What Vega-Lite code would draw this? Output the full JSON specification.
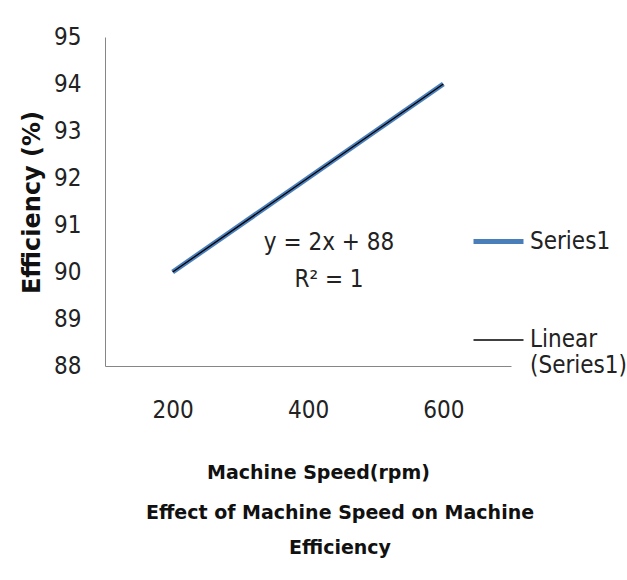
{
  "$schema": "https://vega.github.io/schema/vega-lite/v6.json",
  "width": 406,
  "height": 329,
  "autosize": {"type": "none"},
  "padding": {"left": 105, "top": 37, "right": 116, "bottom": 214},
  "background": "white",
  "config": {"view": {"stroke": null}, "font": "DejaVu Sans Condensed"},
  "title": {
    "text": ["Effect of Machine Speed on Machine", "Efficiency"],
    "orient": "bottom",
    "anchor": "middle",
    "font": "DejaVu Sans",
    "fontWeight": "bold",
    "fontSize": 19,
    "lineHeight": 35,
    "dx": 32,
    "offset": 22,
    "color": "#111111"
  },
  "data": {
    "values": [
      {"speed": "200", "eff": 90, "series": "Series1"},
      {"speed": "400", "eff": 92, "series": "Series1"},
      {"speed": "600", "eff": 94, "series": "Series1"},
      {"speed": "200", "eff": 90, "series": "Linear (Series1)"},
      {"speed": "400", "eff": 92, "series": "Linear (Series1)"},
      {"speed": "600", "eff": 94, "series": "Linear (Series1)"}
    ]
  },
  "encoding": {
    "x": {
      "field": "speed",
      "type": "ordinal",
      "scale": {"type": "point", "padding": 0.5},
      "axis": {
        "title": "Machine Speed(rpm)",
        "labelAngle": 0,
        "ticks": false,
        "grid": false,
        "domainColor": "#868686",
        "labelFont": "DejaVu Sans Condensed",
        "labelFontSize": 24,
        "labelColor": "#222222",
        "labelBaseline": "alphabetic",
        "labelPadding": 51,
        "titleFont": "DejaVu Sans",
        "titleFontWeight": "bold",
        "titleFontSize": 19,
        "titleColor": "#111111",
        "titleX": 213,
        "titleY": 112,
        "titleBaseline": "alphabetic",
        "titleAlign": "center"
      }
    },
    "y": {
      "field": "eff",
      "type": "quantitative",
      "scale": {"domain": [88, 95], "nice": false, "zero": false},
      "axis": {
        "title": "Efficiency (%)",
        "values": [88, 89, 90, 91, 92, 93, 94, 95],
        "ticks": false,
        "grid": false,
        "domainColor": "#868686",
        "labelFont": "DejaVu Sans Condensed",
        "labelFontSize": 24,
        "labelColor": "#222222",
        "labelPadding": 24,
        "titleFont": "DejaVu Sans",
        "titleFontWeight": "bold",
        "titleFontSize": 24,
        "titleColor": "#111111",
        "titleX": -66,
        "titleY": 165,
        "titleBaseline": "alphabetic",
        "titleAlign": "center",
        "titleAngle": 270
      }
    }
  },
  "layer": [
    {
      "transform": [{"filter": "datum.series == 'Series1'"}],
      "mark": {"type": "line"},
      "encoding": {
        "color": {
          "field": "series",
          "type": "nominal",
          "scale": {"domain": ["Series1", "Linear (Series1)"], "range": ["#4A7EBB", "#000000"]},
          "legend": {
            "orient": "none",
            "legendX": 366,
            "legendY": 177,
            "title": null,
            "symbolType": "stroke",
            "symbolSize": 2500,
            "labelFont": "DejaVu Sans Condensed",
            "labelFontSize": 24,
            "labelColor": "#222222",
            "labelOffset": 4,
            "labelLimit": 300,
            "rowPadding": 60,
            "labelExpr": "datum.label == 'Linear (Series1)' ? ['Linear', '(Series1)'] : datum.label"
          }
        },
        "strokeWidth": {
          "field": "series",
          "type": "nominal",
          "scale": {"domain": ["Series1", "Linear (Series1)"], "range": [5, 1.3]}
        }
      }
    },
    {
      "transform": [{"filter": "datum.series == 'Linear (Series1)'"}],
      "mark": {"type": "line"},
      "encoding": {
        "color": {"field": "series", "type": "nominal"},
        "strokeWidth": {"field": "series", "type": "nominal"}
      }
    },
    {
      "data": {
        "values": [
          {"speed": "400", "eff": 90.47, "label": "y = 2x + 88"},
          {"speed": "400", "eff": 89.68, "label": "R² = 1"}
        ]
      },
      "mark": {"type": "text", "font": "DejaVu Sans Condensed", "fontSize": 24, "color": "#222222", "baseline": "alphabetic", "align": "center", "dx": 21},
      "encoding": {
        "text": {"field": "label"}
      }
    }
  ]
}
